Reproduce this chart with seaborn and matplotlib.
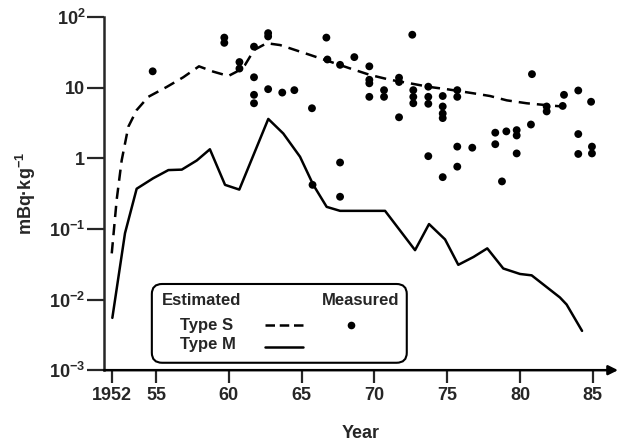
import matplotlib
matplotlib.use("Agg")
import matplotlib.pyplot as plt
import seaborn as sns
from matplotlib.patches import FancyBboxPatch

# estimated, type S (dashed)
s_years = [1951.96, 1952.3, 1952.64, 1953.1, 1953.67, 1954.47, 1955.73, 1956.87,
           1957.95, 1958.94, 1959.97, 1960.54, 1961.11, 1961.73, 1962.6, 1963.52,
           1964.2, 1965.58, 1966.95, 1968.32, 1969.7, 1971.07, 1972.44, 1973.8,
           1974.96, 1976.8, 1977.94, 1979.09, 1980.46, 1981.6, 1982.9]
s_values = [0.045, 0.26, 0.93, 2.8, 4.8, 7.4, 10.2, 14,
            20, 16.8, 14.6, 16.8, 20.9, 34, 42.5, 40,
            36, 29, 23.3, 18.7, 15.1, 12.9, 11.5, 10.2,
            9.5, 8.3, 7.6, 6.6, 6.0, 5.7, 5.4]

# estimated, type M (solid)
m_years = [1952.0, 1952.87, 1953.67, 1954.8, 1955.85, 1956.77, 1957.8, 1958.7,
           1959.74, 1960.72, 1962.71, 1963.74, 1964.89, 1965.8, 1966.72, 1967.64,
           1970.73, 1972.79, 1973.75, 1974.85, 1975.76, 1976.8, 1977.75, 1978.85,
           1980.0, 1980.8, 1982.74, 1983.2, 1984.26]
m_values = [0.0055, 0.087, 0.37, 0.52, 0.68, 0.69, 0.93, 1.34,
            0.42, 0.36, 3.6, 2.24, 1.05, 0.42, 0.205, 0.18,
            0.18, 0.050, 0.117, 0.071, 0.031, 0.040, 0.053, 0.0275,
            0.023, 0.022, 0.0107, 0.0085, 0.0036]

# measured (dots)
meas_years = [1954.77, 1959.69, 1959.69, 1960.73, 1960.73,
              1961.73, 1961.73, 1961.73, 1961.73, 1962.7, 1962.7, 1962.7,
              1963.67, 1964.5, 1965.71, 1965.75, 1966.7, 1966.77, 1967.64,
              1967.64, 1967.64, 1968.62, 1969.65, 1969.65, 1969.65, 1969.65,
              1970.66, 1970.66, 1971.69, 1971.69, 1971.69, 1972.6,
              1972.67, 1972.67, 1972.67, 1973.7, 1973.7, 1973.7, 1973.7,
              1974.69, 1974.69, 1974.69, 1974.69, 1974.69,
              1975.69, 1975.69, 1975.69, 1975.69, 1976.72, 1978.3, 1978.3,
              1978.76, 1979.06, 1979.77, 1979.77, 1979.77, 1980.75, 1980.82,
              1981.83, 1981.83, 1982.93, 1983.02, 1984.0, 1984.0, 1984.0,
              1984.88, 1984.94, 1984.94]
meas_values = [17, 51, 43, 23, 18.6,
               38, 14, 7.9, 6.0, 59, 53, 9.5,
               8.5, 9.2, 5.1, 0.42, 51, 25, 21,
               0.87, 0.285, 27, 20, 12.9, 11.5, 7.4,
               9.2, 7.4, 13.8, 12, 3.8, 56,
               9.2, 7.4, 6.0, 10.3, 7.4, 5.9, 1.07,
               7.6, 5.4, 4.3, 3.7, 0.54,
               9.2, 7.4, 1.46, 0.76, 1.41, 2.3, 1.58,
               0.47, 2.4, 2.5, 2.1, 1.17, 3.0, 15.5,
               5.4, 4.6, 5.5, 7.9, 9.1, 2.2, 1.15,
               6.3, 1.46, 1.17]

x_ticks = [1952, 1955, 1960, 1965, 1970, 1975, 1980, 1985]
x_labels = ["1952", "55", "60", "65", "70", "75", "80", "85"]
y_ticks = [1e-3, 1e-2, 1e-1, 1, 10, 100]
y_labels = ["$10^{-3}$", "$10^{-2}$", "$10^{-1}$", "1", "10", "$10^{2}$"]

sns.set_style("ticks")
plt.rcParams["font.family"] = ["Liberation Sans", "DejaVu Sans"]
plt.rcParams["font.weight"] = "bold"
plt.rcParams["axes.labelweight"] = "bold"
plt.rcParams["mathtext.default"] = "regular"

fig = plt.figure(figsize=(6.23, 4.46), dpi=100)
ax = fig.add_axes([0.167, 0.170, 0.825, 0.792])

sns.lineplot(x=s_years, y=s_values, ax=ax, color="black", lw=1.8,
             linestyle=(0, (4.5, 2.8)), sort=False)
sns.lineplot(x=m_years, y=m_values, ax=ax, color="black", lw=1.8, sort=False)
sns.scatterplot(x=meas_years, y=meas_values, ax=ax, color="black", s=32,
                edgecolor="none")

ax.set_yscale("log")
ax.set_ylim(1e-3, 1e2)
ax.set_xlim(1951.43, 1986.73)
ax.set_xticks(x_ticks)
ax.set_xticklabels(x_labels)
ax.set_yticks(y_ticks)
ax.set_yticklabels(y_labels)
ax.minorticks_off()
ax.tick_params(axis="y", length=12, width=1.6, pad=1.5, labelsize=13)
ax.tick_params(axis="x", length=9, width=1.6, pad=3, labelsize=13)

for side in ["top", "right", "bottom"]:
    ax.spines[side].set_visible(False)
ax.spines["left"].set_linewidth(1.8)
ax.annotate("", xy=(1.0, 0), xytext=(0, 0), xycoords="axes fraction",
            arrowprops=dict(arrowstyle="-|>", lw=1.8, color="black",
                            mutation_scale=14, shrinkA=0, shrinkB=0))

ax.set_xlabel("Year", fontsize=13, labelpad=15)
ax.set_ylabel("mBq\u00b7kg$^{-1}$", fontsize=13, labelpad=8)

# legend box drawn by hand to get the two-column layout
box = FancyBboxPatch((0.093, 0.021), 0.496, 0.223, transform=ax.transAxes,
                     boxstyle="round,pad=0,rounding_size=0.02",
                     mutation_aspect=1.42, facecolor="white",
                     edgecolor="black", lw=1.5, zorder=5)
ax.add_patch(box)
kw = dict(transform=ax.transAxes, fontsize=12, fontweight="bold",
          va="center", zorder=6)
ax.text(0.112, 0.198, "Estimated", ha="left", **kw)
ax.text(0.575, 0.198, "Measured", ha="right", **kw)
ax.text(0.148, 0.127, "Type S", ha="left", **kw)
ax.text(0.148, 0.072, "Type M", ha="left", **kw)
ax.plot([0.313, 0.387], [0.127, 0.127], transform=ax.transAxes, color="black",
        lw=1.8, linestyle=(0, (3.8, 1.9)), zorder=6)
ax.plot([0.313, 0.387], [0.066, 0.066], transform=ax.transAxes, color="black",
        lw=1.8, zorder=6)
ax.plot([0.480], [0.127], "o", transform=ax.transAxes, color="black", ms=5.5,
        mec="none", zorder=6)

fig.savefig("out.png", dpi=100)
